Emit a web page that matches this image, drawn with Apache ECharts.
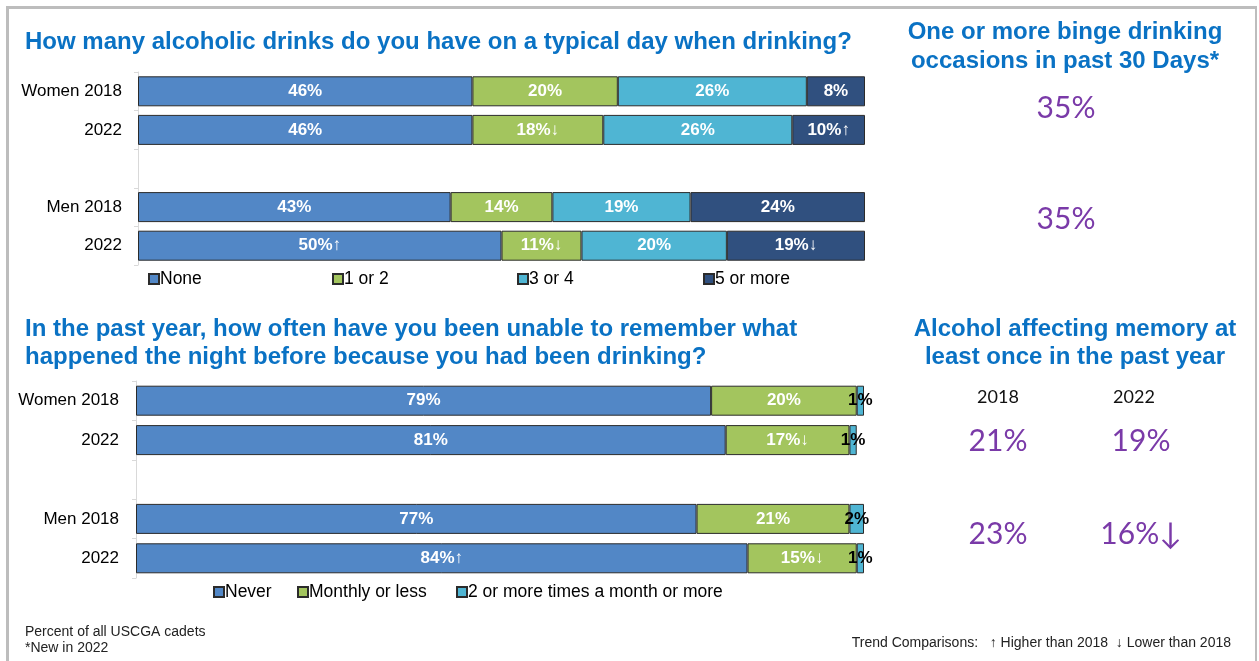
<!DOCTYPE html>
<html>
<head>
<meta charset="utf-8">
<script src="https://cdn.jsdelivr.net/npm/echarts@6/dist/echarts.min.js"></script>
<style>
  html, body { margin: 0; padding: 0; background: #fff; }
  #main { width: 1259px; height: 661px; }
</style>
</head>
<body>
<div id="main"></div>
<script>
// Row labels (blank row separates women and men)
const rowLabels = ['Women 2018', '2022', '', 'Men 2018', '2022'];

// Drinks on a typical drinking day (percent of cadets)
const drinkNames = ['None', '1 or 2', '3 or 4', '5 or more'];
const drinkNone = [46, 46, '-', 43, 50];
const drinkOneTwo = [20, 18, '-', 14, 11];
const drinkThreeFour = [26, 26, '-', 19, 20];
const drinkFivePlus = [8, 10, '-', 24, 19];
const drinkNoneTrend = ['', '', '', '', '↑'];
const drinkOneTwoTrend = ['', '↓', '', '', '↓'];
const drinkThreeFourTrend = ['', '', '', '', ''];
const drinkFivePlusTrend = ['', '↑', '', '', '↓'];

// Unable to remember the night before (percent of cadets)
const memoryNames = ['Never', 'Monthly or less', '2 or more times a month or more'];
const memoryNever = [79, 81, '-', 77, 84];
const memoryMonthly = [20, 17, '-', 21, 15];
const memoryOften = [1, 1, '-', 2, 1];
const memoryNeverTrend = ['', '', '', '', '↑'];
const memoryMonthlyTrend = ['', '↓', '', '', '↓'];
const memoryOftenTrend = ['', '', '', '', ''];

// Side panels
const bingeWomen = '35%';
const bingeMen = '35%';
const memoryYears = ['2018', '2022'];
const memoryAnyWomen = ['21%', '19%'];
const memoryAnyMen = ['23%', '16%↓'];

const C_NONE = '#5287C6';
const C_GREEN = '#A3C55E';
const C_CYAN = '#4FB5D3';
const C_NAVY = '#30507F';
const TITLE_BLUE = '#0A72C4';
const PURPLE = '#7A3AA8';
const ARIAL = '"Liberation Sans", Arial, sans-serif';
const CAL = 'Lato, "Open Sans", sans-serif';

function barSeries(name, data, trend, color, axis, labelColor) {
  return {
    name: name,
    type: 'bar',
    stack: axis === 0 ? 'drinks' : 'memory',
    xAxisIndex: axis,
    yAxisIndex: axis,
    barWidth: 30,
    data: data,
    itemStyle: { color: color, borderColor: '#2b2b2b', borderWidth: 1 },
    label: {
      show: true,
      position: 'inside',
      color: labelColor || '#fff',
      fontFamily: ARIAL,
      fontWeight: 'bold',
      fontSize: 17,
      formatter: function (p) { return p.value + '%' + trend[p.dataIndex]; }
    },
    emphasis: { disabled: true }
  };
}

function yAxis(gridIndex, margin) {
  return {
    type: 'category',
    gridIndex: gridIndex,
    inverse: true,
    data: rowLabels.map(function (_, i) { return i; }),
    axisLine: { lineStyle: { color: '#D9D9D9', width: 1 } },
    axisTick: { show: true, length: 4, lineStyle: { color: '#D9D9D9' } },
    axisLabel: {
      margin: margin,
      color: '#000',
      fontFamily: ARIAL,
      fontSize: 17,
      formatter: function (v, i) { return rowLabels[i]; }
    }
  };
}

function legendItem(name, left, top) {
  return {
    data: [name],
    left: left,
    top: top,
    icon: 'rect',
    itemWidth: 10,
    itemHeight: 10,
    selectedMode: false,
    textStyle: { fontFamily: ARIAL, fontSize: 17.5, color: '#000', padding: [0, 0, 0, -4] }
  };
}

function txt(text, x, y, font, fill, align) {
  return {
    type: 'text',
    silent: true,
    style: {
      text: text, x: x, y: y, font: font, fill: fill,
      textAlign: align || 'left', textVerticalAlign: 'middle'
    }
  };
}

const chart = echarts.init(document.getElementById('main'), null, { renderer: 'canvas' });

chart.setOption({
  animation: false,
  backgroundColor: '#fff',
  grid: [
    { left: 138, top: 72, width: 727, height: 193 },
    { left: 136, top: 381, width: 728, height: 197 }
  ],
  xAxis: [
    { type: 'value', gridIndex: 0, min: 0, max: 100, show: false },
    { type: 'value', gridIndex: 1, min: 0, max: 100, show: false }
  ],
  yAxis: [yAxis(0, 16), yAxis(1, 17)],
  legend: [
    legendItem(drinkNames[0], 143, 265),
    legendItem(drinkNames[1], 327, 265),
    legendItem(drinkNames[2], 512, 265),
    legendItem(drinkNames[3], 698, 265),
    legendItem(memoryNames[0], 208, 578),
    legendItem(memoryNames[1], 292, 578),
    legendItem(memoryNames[2], 451, 578)
  ],
  series: [
    barSeries(drinkNames[0], drinkNone, drinkNoneTrend, C_NONE, 0),
    barSeries(drinkNames[1], drinkOneTwo, drinkOneTwoTrend, C_GREEN, 0),
    barSeries(drinkNames[2], drinkThreeFour, drinkThreeFourTrend, C_CYAN, 0),
    barSeries(drinkNames[3], drinkFivePlus, drinkFivePlusTrend, C_NAVY, 0),
    barSeries(memoryNames[0], memoryNever, memoryNeverTrend, C_NONE, 1),
    barSeries(memoryNames[1], memoryMonthly, memoryMonthlyTrend, C_GREEN, 1),
    barSeries(memoryNames[2], memoryOften, memoryOftenTrend, C_CYAN, 1, '#000')
  ],
  graphic: [
    // frame
    { type: 'line', silent: true, shape: { x1: 7.5, y1: 6, x2: 7.5, y2: 670 }, style: { stroke: '#BDBDBD', lineWidth: 3 } },
    { type: 'line', silent: true, shape: { x1: 6, y1: 7.5, x2: 1257, y2: 7.5 }, style: { stroke: '#BDBDBD', lineWidth: 3 } },
    { type: 'line', silent: true, shape: { x1: 1256, y1: 6, x2: 1256, y2: 670 }, style: { stroke: '#BDBDBD', lineWidth: 2 } },

    txt('How many alcoholic drinks do you have on a typical day when drinking?', 25, 42, 'bold 24px ' + ARIAL, TITLE_BLUE),
    txt('In the past year, how often have you been unable to remember what', 25, 329, 'bold 24px ' + ARIAL, TITLE_BLUE),
    txt('happened the night before because you had been drinking?', 25, 357, 'bold 24px ' + ARIAL, TITLE_BLUE),

    txt('One or more binge drinking', 1065, 32, 'bold 24px ' + ARIAL, TITLE_BLUE, 'center'),
    txt('occasions in past 30 Days*', 1065, 61, 'bold 24px ' + ARIAL, TITLE_BLUE, 'center'),
    txt(bingeWomen, 1066, 108, '30px ' + CAL, PURPLE, 'center'),
    txt(bingeMen, 1066, 219, '30px ' + CAL, PURPLE, 'center'),

    txt('Alcohol affecting memory at', 1075, 329, 'bold 24px ' + ARIAL, TITLE_BLUE, 'center'),
    txt('least once in the past year', 1075, 357, 'bold 24px ' + ARIAL, TITLE_BLUE, 'center'),
    txt(memoryYears[0], 998, 397, '18px ' + CAL, '#111', 'center'),
    txt(memoryYears[1], 1134, 397, '18px ' + CAL, '#111', 'center'),
    txt(memoryAnyWomen[0], 998, 441, '30px ' + CAL, PURPLE, 'center'),
    txt(memoryAnyWomen[1], 1141, 441, '30px ' + CAL, PURPLE, 'center'),
    txt(memoryAnyMen[0], 998, 534, '30px ' + CAL, PURPLE, 'center'),
    txt(memoryAnyMen[1], 1141, 534, '30px ' + CAL, PURPLE, 'center'),

    txt('Percent of all USCGA cadets', 25, 632, '14px ' + ARIAL, '#222'),
    txt('*New in 2022', 25, 648, '14px ' + ARIAL, '#222'),
    txt('Trend Comparisons:   ↑ Higher than 2018  ↓ Lower than 2018', 1231, 643, '14px ' + ARIAL, '#222', 'right')
  ]
});
</script>
</body>
</html>
